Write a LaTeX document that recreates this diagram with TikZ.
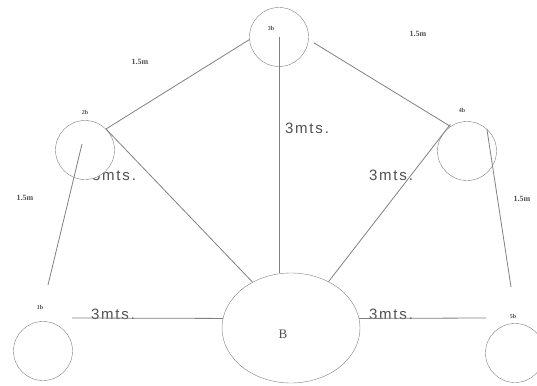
\documentclass[tikz,border=0pt]{standalone}
\usepackage{fontspec}
\setmainfont{Liberation Serif}
\newfontfamily\mtsfont[LetterSpace=12]{Liberation Sans}
\usetikzlibrary{positioning, shapes.geometric, calc}
\definecolor{lampline}{HTML}{808080}
\definecolor{lamptext}{HTML}{505050}

\begin{document}
\begin{tikzpicture}[x=1pt, y=-1pt,
    lamp/.style={draw=lampline, fill=white, circle, minimum size=59pt, inner sep=0pt},
    base/.style={draw=lampline, fill=white, ellipse, minimum width=138pt, minimum height=110pt, inner sep=0pt},
    tag/.style={font=\fontsize{6}{7}\selectfont\bfseries, text=lamptext, inner sep=1pt},
    span/.style={font=\fontsize{8}{9}\selectfont\bfseries, text=lamptext, inner sep=0pt},
    mts/.style={font=\mtsfont\fontsize{15}{17}\selectfont, text=lamptext, inner sep=0pt},
    wire/.style={draw=lampline, line width=0.8pt}]
  \useasboundingbox (0,0) rectangle (537,385);

  % distances (drawn first, the lamps cover them)
  \node[mts] (m2) at (114,175) {3mts.};
  \node[mts] (m3) at (307,128) {3mts.};
  \node[mts] (m4) at (391,175) {3mts.};
  \node[mts] (m1) at (113,314) {3mts.};
  \node[mts] (m5) at (391,314) {3mts.};
  \node[span] (s23) at (140,62) {1.5m};
  \node[span] (s34) at (418,34) {1.5m};
  \node[span] (s12) at (25,198) {1.5m};
  \node[span] (s45) at (522,199) {1.5m};

  % lamps
  \node[lamp] (b3) at (279,37) {};
  \node[lamp] (b2) at (85,150) {};
  \node[lamp] (b4) at (467,151) {};
  \node[lamp] (b1) at (43,351) {};
  \node[lamp] (b5) at (515,353) {};
  \node[base] (bb) at (291,328) {};
  \node[font=\fontsize{13}{14}\selectfont, text=lamptext] (lb) at (283,334) {B};

  \node[tag] (l3) at (271,28) {3b};
  \node[tag] (l2) at (85,112) {2b};
  \node[tag] (l4) at (462,110) {4b};
  \node[tag] (l1) at (40,307) {1b};
  \node[tag, fill=white, inner sep=4pt] (l5) at (513,316) {5b};

  % wires
  \coordinate (t1) at (48,285);
  \coordinate (t5) at (511,287);
  \coordinate (h1) at (72,318);
  \coordinate (h5) at (486,318);
  \draw[wire] (b2.45) -- (b3.185);
  \draw[wire, shorten <=6pt] (b3.-5) -- (b4.124);
  \draw[wire] (b3.center) -- (b3.center |- bb.north);
  \draw[wire] (b2.45) -- (bb.130);
  \draw[wire] ($(b2.center)+(-3,-6)$) -- (t1);
  \draw[wire, shorten <=-7pt] (b4.135) -- (bb.51);
  \draw[wire] (b4.48) -- (t5);
  \draw[wire] (h1) -- (bb.172);
  \draw[wire] (bb.8) -- (h5);
\end{tikzpicture}
\end{document}
